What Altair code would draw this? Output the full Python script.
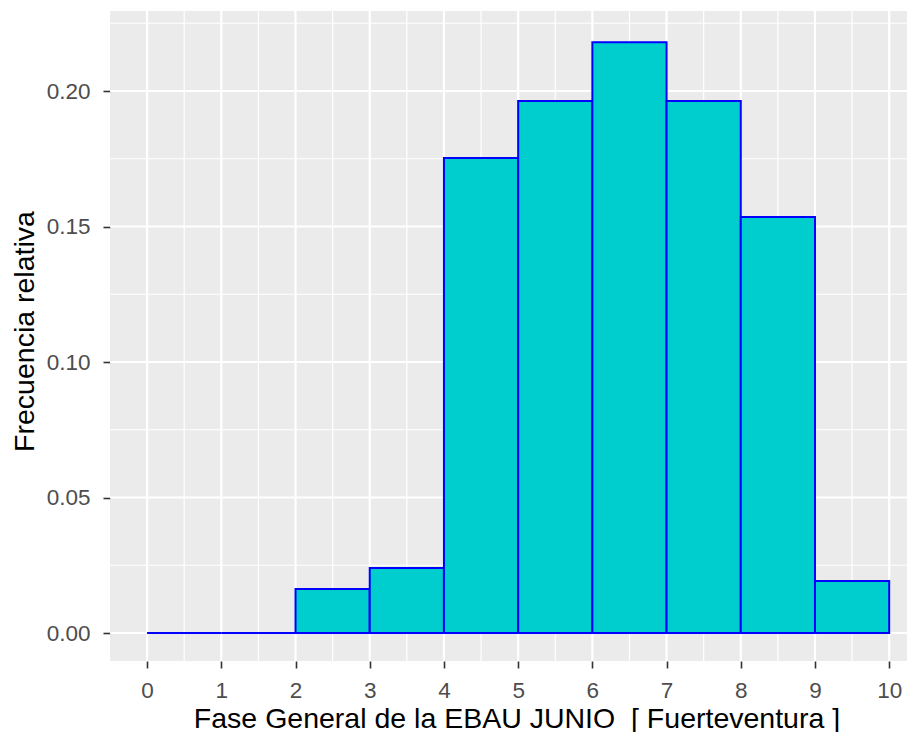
import altair as alt
import pandas as pd

# Histogram data (bin edges and relative frequencies)
bin_start = [0, 1, 2, 3, 4, 5, 6, 7, 8, 9]
bin_end = [1, 2, 3, 4, 5, 6, 7, 8, 9, 10]
rel_freq = [0.0, 0.0, 0.0162, 0.0240, 0.1753, 0.1963, 0.2180, 0.1963, 0.1535, 0.0192]

x_major = [0, 1, 2, 3, 4, 5, 6, 7, 8, 9, 10]
x_minor = [0.5, 1.5, 2.5, 3.5, 4.5, 5.5, 6.5, 7.5, 8.5, 9.5]
y_major = [0.0, 0.05, 0.10, 0.15, 0.20]
y_minor = [0.025, 0.075, 0.125, 0.175, 0.225]

XDOM = [-0.5, 10.24]
YDOM = [-0.01033, 0.22952]

bars = pd.DataFrame({"start": bin_start, "end": bin_end, "freq": rel_freq, "zero": [0.0] * len(bin_start)})

xs = alt.Scale(domain=XDOM, nice=False, zero=False)
ys = alt.Scale(domain=YDOM, nice=False, zero=False)

FONT = "Liberation Sans"

x_axis = alt.Axis(
    values=x_major, grid=False, domain=False,
    tickColor="#333333", tickWidth=1.6, tickSize=7,
    labelColor="#4D4D4D", labelFontSize=22.5, labelFont=FONT, labelPadding=11,
    title="Fase General de la EBAU JUNIO\u00a0 [ Fuerteventura ]",
    titleFontSize=28.5, titleFont=FONT, titleColor="#000000", titleFontWeight="normal",
    titleBaseline="alphabetic", titleX=406.5, titleY=66,
)
y_axis = alt.Axis(
    values=y_major, grid=False, domain=False, format=".2f",
    tickColor="#333333", tickWidth=1.6, tickSize=7,
    labelColor="#4D4D4D", labelFontSize=22.5, labelFont=FONT, labelPadding=13,
    title="Frecuencia relativa",
    titleFontSize=28.5, titleFont=FONT, titleColor="#000000", titleFontWeight="normal",
    titleBaseline="alphabetic", titleX=-77, titleY=320, titleAngle=270,
)

hist = alt.Chart(bars).mark_rect(fill="#00CDCD", stroke="#0000FF", strokeWidth=2).encode(
    x=alt.X("start:Q", scale=xs, axis=x_axis),
    x2="end:Q",
    y=alt.Y("freq:Q", scale=ys, axis=y_axis),
    y2="zero:Q",
)

vminor = alt.Chart(pd.DataFrame({"start": x_minor})).mark_rule(color="white", strokeWidth=1.2).encode(
    x=alt.X("start:Q", scale=xs, axis=x_axis))
hminor = alt.Chart(pd.DataFrame({"freq": y_minor})).mark_rule(color="white", strokeWidth=1.2).encode(
    y=alt.Y("freq:Q", scale=ys, axis=y_axis))
vmajor = alt.Chart(pd.DataFrame({"start": x_major})).mark_rule(color="white", strokeWidth=2.2).encode(
    x=alt.X("start:Q", scale=xs, axis=x_axis))
hmajor = alt.Chart(pd.DataFrame({"freq": y_major})).mark_rule(color="white", strokeWidth=2.2).encode(
    y=alt.Y("freq:Q", scale=ys, axis=y_axis))

chart = alt.layer(vminor, hminor, vmajor, hmajor, hist).properties(
    width=797, height=650,
    autosize=alt.AutoSizeParams(type="none"),
    padding={"left": 102, "top": 3, "right": 0, "bottom": 71},
    background="white",
).configure_view(fill="#EBEBEB", stroke=None)

chart.save("out.html", embed_options={"renderer": "svg", "actions": False})
